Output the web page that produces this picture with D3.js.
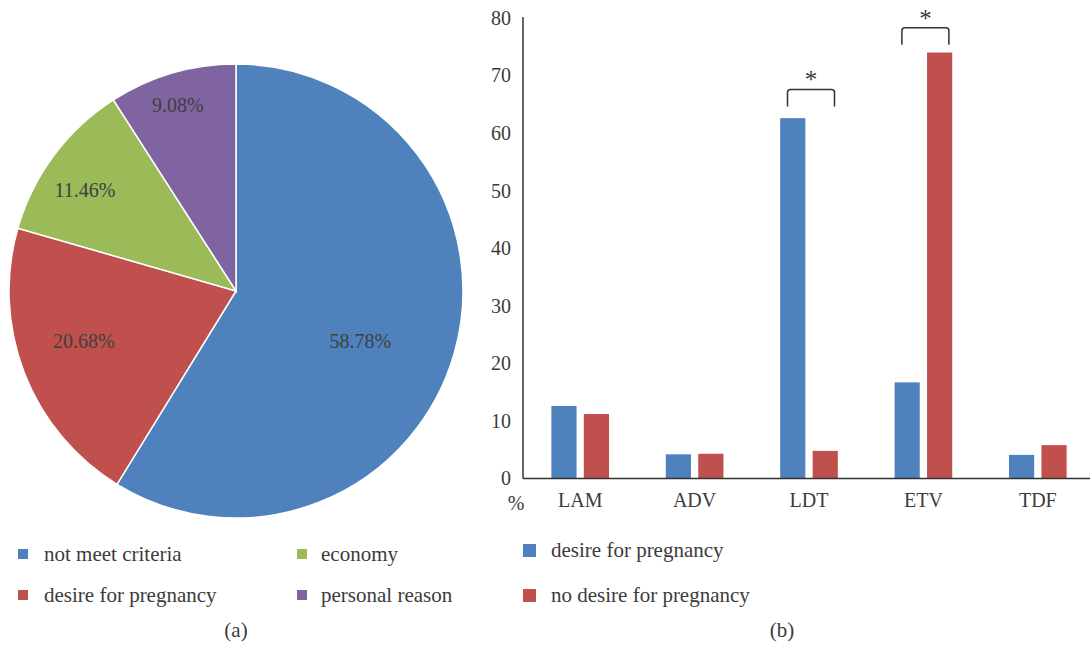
<!DOCTYPE html>
<html>
<head>
<meta charset="utf-8">
<script src="https://cdn.jsdelivr.net/npm/d3@7"></script>
<style>
  body { margin: 0; background: #fff; }
  text { font-family: "Liberation Serif", "DejaVu Serif", serif; fill: #3b3b3b; }
</style>
</head>
<body>
<svg id="chart" width="1090" height="652"></svg>
<script>
// ---- data (a): reasons ----
var pieLabels = ["not meet criteria", "desire for pregnancy", "economy", "personal reason"];
var pieValues = [58.78, 20.68, 11.46, 9.08];
var pieColors = ["#4f81bd", "#c0504d", "#9bbb59", "#8064a2"];

// ---- data (b): drugs by group ----
var drugs = ["LAM", "ADV", "LDT", "ETV", "TDF"];
var seriesNames = ["desire for pregnancy", "no desire for pregnancy"];
var desireValues = [12.6, 4.2, 62.6, 16.7, 4.1];
var noDesireValues = [11.2, 4.3, 4.8, 74.0, 5.8];
var barColors = ["#4f81bd", "#c0504d"];
var yTicks = [0, 10, 20, 30, 40, 50, 60, 70, 80];
var sigDrugs = ["LDT", "ETV"];
var sigTops = [67.6, 78.3];

var svg = d3.select("#chart");

/*****************  Pie (a) **********************/
var cx = 236, cy = 291, radius = 227;
var pieG = svg.append("g").attr("transform", "translate(" + cx + "," + cy + ")");

var pie = d3.pie().sort(null).value(function (d) { return d; });
var arcs = pie(pieValues);
var arc = d3.arc().innerRadius(0).outerRadius(radius);

pieG.selectAll("path")
    .data(arcs)
    .enter()
    .append("path")
    .attr("d", arc)
    .style("fill", function (d, i) { return pieColors[i]; })
    .style("stroke", "#fff")
    .style("stroke-width", 1.5);

// label placement (radius fraction, angle nudge in degrees) - excel "best fit"
var labelPlace = [[0.59, 6], [0.705, 3], [0.8, -3], [0.86, -1]];
pieG.selectAll(".plabel")
    .data(arcs)
    .enter()
    .append("text")
    .attr("class", "plabel")
    .attr("x", function (d, i) {
        var a = (d.startAngle + d.endAngle) / 2 + labelPlace[i][1] * Math.PI / 180;
        return Math.sin(a) * radius * labelPlace[i][0];
    })
    .attr("y", function (d, i) {
        var a = (d.startAngle + d.endAngle) / 2 + labelPlace[i][1] * Math.PI / 180;
        return -Math.cos(a) * radius * labelPlace[i][0];
    })
    .attr("dy", "0.35em")
    .attr("text-anchor", "middle")
    .style("font-size", "20px")
    .style("fill", "#404040")
    .text(function (d) { return d.value.toFixed(2) + "%"; });

// pie legend
var pieLegend = svg.append("g");
pieLegend.selectAll("rect")
    .data(pieLabels)
    .enter()
    .append("rect")
    .attr("x", function (d, i) { return i < 2 ? 18 : 297; })
    .attr("y", function (d, i) { return i % 2 == 0 ? 549 : 590; })
    .attr("width", 10)
    .attr("height", 10)
    .style("fill", function (d, i) { return pieColors[i]; });
pieLegend.selectAll("text")
    .data(pieLabels)
    .enter()
    .append("text")
    .attr("x", function (d, i) { return i < 2 ? 44 : 321; })
    .attr("y", function (d, i) { return i % 2 == 0 ? 561 : 602; })
    .style("font-size", "21px")
    .text(function (d) { return d; });

svg.append("text")
    .attr("x", cx)
    .attr("y", 637)
    .attr("text-anchor", "middle")
    .style("font-size", "21px")
    .text("(a)");

/*****************  Bars (b) **********************/
var x0 = d3.scaleBand()
    .domain(drugs)
    .range([523, 1095])
    .paddingInner(0.496)
    .paddingOuter(0.248);
var x1 = d3.scaleBand()
    .domain([0, 1])
    .range([0, x0.bandwidth()])
    .paddingInner(0.224);
var y = d3.scaleLinear().domain([0, 80]).range([478.5, 18]);

var groups = svg.selectAll(".grp")
    .data(drugs)
    .enter()
    .append("g")
    .attr("class", "grp")
    .attr("transform", function (d) { return "translate(" + x0(d) + ",0)"; });

groups.selectAll("rect")
    .data(function (d, i) { return [desireValues[i], noDesireValues[i]]; })
    .enter()
    .append("rect")
    .attr("x", function (d, i) { return x1(i); })
    .attr("y", function (d) { return y(d); })
    .attr("width", x1.bandwidth())
    .attr("height", function (d) { return y(0) - y(d); })
    .style("fill", function (d, i) { return barColors[i]; });

// axes
var yAxis = d3.axisLeft(y).tickValues(yTicks).tickSize(0).tickPadding(12);
var yG = svg.append("g").attr("transform", "translate(523,0)").call(yAxis);
yG.select(".domain").attr("d", "M0," + (y(80) - 1) + "V" + y(0)).style("stroke", "#333").style("stroke-width", 1.5);
yG.selectAll("text").style("font-size", "20px").style("font-family", "Liberation Serif, serif").style("fill", "#3b3b3b");

var xAxis = d3.axisBottom(x0).tickSize(0).tickPadding(14);
var xG = svg.append("g").attr("transform", "translate(0," + y(0) + ")").call(xAxis);
xG.select(".domain").attr("d", "M523,0H1090").style("stroke", "#333").style("stroke-width", 1.5);
xG.selectAll("text").style("font-size", "20px").style("font-family", "Liberation Serif, serif").style("fill", "#3b3b3b");

svg.append("text")
    .attr("x", 516)
    .attr("y", 510)
    .attr("text-anchor", "middle")
    .style("font-size", "20px")
    .text("%");

// significance brackets
var half = 23.5, leg = 17, rr = 3;
sigDrugs.forEach(function (d, i) {
    var c = x0(d) + x0.bandwidth() / 2 + 2;
    var t = y(sigTops[i]);
    svg.append("path")
        .attr("d", "M" + (c - half) + "," + (t + leg) + "V" + (t + rr) +
            "Q" + (c - half) + "," + t + " " + (c - half + rr) + "," + t +
            "H" + (c + half - rr) +
            "Q" + (c + half) + "," + t + " " + (c + half) + "," + (t + rr) +
            "V" + (t + leg))
        .style("fill", "none")
        .style("stroke", "#333")
        .style("stroke-width", 1.5);
    svg.append("text")
        .attr("x", c)
        .attr("y", t - 1)
        .attr("text-anchor", "middle")
        .style("font-size", "25px")
        .text("*");
});

// bar legend
var barLegend = svg.append("g");
barLegend.selectAll("rect")
    .data(seriesNames)
    .enter()
    .append("rect")
    .attr("x", 523)
    .attr("y", function (d, i) { return i == 0 ? 544 : 589; })
    .attr("width", 13)
    .attr("height", 13)
    .style("fill", function (d, i) { return barColors[i]; });
barLegend.selectAll("text")
    .data(seriesNames)
    .enter()
    .append("text")
    .attr("x", 551)
    .attr("y", function (d, i) { return i == 0 ? 557 : 602; })
    .style("font-size", "21px")
    .text(function (d) { return d; });

svg.append("text")
    .attr("x", 782)
    .attr("y", 637)
    .attr("text-anchor", "middle")
    .style("font-size", "21px")
    .text("(b)");
</script>
</body>
</html>
